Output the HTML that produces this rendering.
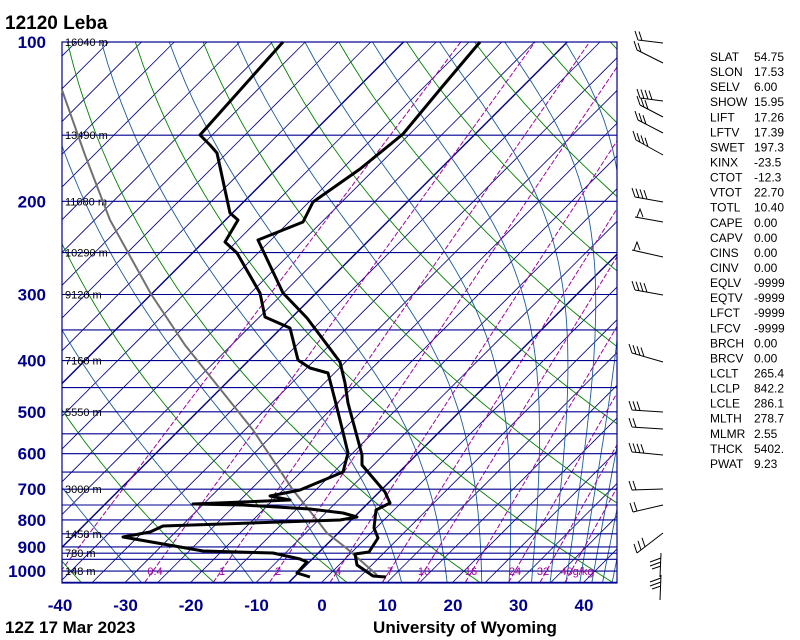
<!DOCTYPE html>
<html><head><meta charset="utf-8"><style>
html,body{margin:0;padding:0;background:#fff;width:800px;height:640px;overflow:hidden}
svg{display:block}
</style></head><body>
<svg id="s" xmlns="http://www.w3.org/2000/svg" width="800" height="640" viewBox="0 0 800 640" font-family="Liberation Sans, sans-serif"></svg>
<script>
(function(){
function yp(p){return 42+229.8*Math.log(p/100);}
function xt(T,p){return 321+6.55*T+(583-yp(p));}
var o=[];
o.push('<defs><clipPath id="c"><rect x="62" y="42" width="555" height="541"/></clipPath></defs>');
o.push('<g clip-path="url(#c)" fill="none">');
for(var T=-170;T<=60;T+=5){
  var xa=321+6.55*T, w=(T==-70||T==-45||T==-5)?1.4:0.8;
  o.push('<line x1="'+xa+'" y1="583" x2="'+(xa+541)+'" y2="42" stroke="#000080" stroke-width="'+w+'"/>');
}
for(var th=233.15;th<=533.15;th+=20){
  var pts=[];
  for(var p=1050;p>=100;p-=10){var Tk=th*Math.pow(p/1000,0.2857);pts.push(xt(Tk-273.15,p).toFixed(1)+','+yp(p).toFixed(1));}
  o.push('<polyline points="'+pts.join(' ')+'" stroke="#008000" stroke-width="0.9"/>');
}
function es(Tc){return 6.112*Math.exp(17.67*Tc/(Tc+243.5));}
function the(Tc,p){var e=es(Tc),rs=0.622*e/Math.max(p-e,1),Tk=Tc+273.15;return Tk*Math.pow(1000/p,0.2857)*Math.exp(2.5e6*rs/(1004*Tk));}
for(var te=243.15;te<=503.15;te+=20){
  var pts=[];
  for(var p=1050;p>=100;p-=10){
    var lo=-150,hi=45;
    if(the(hi,p)<te)break;
    for(var i=0;i<50;i++){var m=(lo+hi)/2;if(the(m,p)<te)lo=m;else hi=m;}
    pts.push(xt(lo,p).toFixed(1)+','+yp(p).toFixed(1));
  }
  if(pts.length>1)o.push('<polyline points="'+pts.join(' ')+'" stroke="#1c5a9a" stroke-width="0.9"/>');
}
var mr=[0.1,0.4,1,2,4,7,10,16,24,32,40];
for(var k=0;k<mr.length;k++){
  var r=mr[k]/1000,pts=[];
  [1050,100].forEach(function(p){
    var e=r*p/(0.622+r),L=Math.log(e/6.112),Tc=L*243.5/(17.67-L);
    pts.push(xt(Tc,p).toFixed(1)+','+yp(p).toFixed(1));
  });
  o.push('<polyline points="'+pts.join(' ')+'" stroke="#a000a0" stroke-width="1" stroke-dasharray="5,2"/>');
}
o.push('</g>');
[100,150,200,250,300,350,400,450,500,550,600,650,700,750,800,850,900,925,950,1000,1050].forEach(function(p){
  var y=yp(p).toFixed(1);
  o.push('<line x1="62" y1="'+y+'" x2="617" y2="'+y+'" stroke="#000090" stroke-width="1.1"/>');
});
o.push('<rect x="62" y="42" width="555" height="541" fill="none" stroke="#000090" stroke-width="1.2"/>');
[[100,'16040 m'],[150,'13490 m'],[200,'11680 m'],[250,'10290 m'],[300,'9120 m'],[400,'7160 m'],[500,'5550 m'],[700,'3000 m'],[850,'1458 m'],[925,'780 m'],[1000,'148 m']].forEach(function(a){
  o.push('<text x="65" y="'+(yp(a[0])+4).toFixed(1)+'" font-size="11" fill="#000">'+a[1]+'</text>');
});
[[155,'0.4'],[222,'1'],[278,'2'],[338,'4'],[390,'7'],[424,'10'],[471,'16'],[515,'24'],[543,'32'],[577,'40g/kg']].forEach(function(a){
  o.push('<text x="'+a[0]+'" y="575" font-size="11" fill="#a000a0" text-anchor="middle">'+a[1]+'</text>');
});
o.push('<polyline fill="none" stroke="#707070" stroke-width="2" points="62,90 85,155 110,220 151,294 185,345 213,380 253,430 293,490 317,520 327,533 345,547 360,560 377,575"/>');
o.push('<polyline fill="none" stroke="#000" stroke-width="3" stroke-linejoin="round" points="480,42 442,87 403,134 360,169 313,202 303,222 258,240 283,293 307,318 340,362 345,383 348,403 362,455 362,465 385,492 390,503 376,510 374,528 378,538 369,552 355,554 357,565 373,576 386,577"/>');
o.push('<polyline fill="none" stroke="#000" stroke-width="3" stroke-linejoin="round" points="283,42 200,135 210,145 217,153 230,213 238,220 225,242 237,253 260,293 265,317 290,328 298,360 310,368 328,373 335,400 342,428 348,453 343,472 300,490 270,496 290,500 193,504 243,505 310,509 343,513 357,517 340,520 163,526 150,532 123,537 203,551 273,553 300,559 307,562 297,573 310,577"/>');
[[100,'100'],[200,'200'],[300,'300'],[400,'400'],[500,'500'],[600,'600'],[700,'700'],[800,'800'],[900,'900'],[1000,'1000']].forEach(function(a){
  o.push('<text x="46" y="'+(yp(a[0])+6).toFixed(1)+'" font-size="17" font-weight="bold" fill="#00008b" text-anchor="end">'+a[1]+'</text>');
});
for(var t=-40;t<=40;t+=10){
  o.push('<text x="'+(322+6.55*t).toFixed(1)+'" y="611" font-size="17" font-weight="bold" fill="#00008b" text-anchor="middle">'+t+'</text>');
}
o.push('<text x="5" y="29" font-size="19" font-weight="bold" fill="#000">12120  Leba</text>');
o.push('<text x="5" y="633" font-size="17" font-weight="bold" fill="#000">12Z 17 Mar 2023</text>');
o.push('<text x="465" y="633" font-size="17" font-weight="bold" fill="#000" text-anchor="middle">University of Wyoming</text>');
var st=[['SLAT','54.75'],['SLON','17.53'],['SELV','6.00'],['SHOW','15.95'],['LIFT','17.26'],['LFTV','17.39'],['SWET','197.3'],['KINX','-23.5'],['CTOT','-12.3'],['VTOT','22.70'],['TOTL','10.40'],['CAPE','0.00'],['CAPV','0.00'],['CINS','0.00'],['CINV','0.00'],['EQLV','-9999'],['EQTV','-9999'],['LFCT','-9999'],['LFCV','-9999'],['BRCH','0.00'],['BRCV','0.00'],['LCLT','265.4'],['LCLP','842.2'],['LCLE','286.1'],['MLTH','278.7'],['MLMR','2.55'],['THCK','5402.'],['PWAT','9.23']];
st.forEach(function(a,i){var y=57+i*15.07+4;
  o.push('<text x="710" y="'+y.toFixed(1)+'" font-size="12" fill="#000">'+a[0]+'</text><text x="754" y="'+y.toFixed(1)+'" font-size="12" fill="#000">'+a[1]+'</text>');});
var barbs=[[638,40,663,43,2],[637,50,663,63,2],[640,98,663,101,4],[640,105,663,117,3],[638,120,663,133,3],[636,140,663,155,4],[635,197,663,202,4],[635,217,663,222,9],[632,250,663,257,9],[635,290,663,295,4],[632,353,663,362,4],[632,410,663,412,3],[632,427,663,429,2],[632,452,663,455,4],[632,490,663,489,2],[633,512,663,505,2],[637,553,663,533,3]];
barbs.forEach(function(b){
  var s='M'+b[0]+','+b[1]+'L'+b[2]+','+b[3];
  var n=b[4];
  if(n==9){s+='M'+(b[0]+2)+','+b[1]+'l3,-8l3,8';}
  else for(var i=0;i<n;i++){var xx=b[0]+i*4,yy=b[1]+(b[3]-b[1])*(i*4)/(b[2]-b[0]);s+='M'+xx+','+yy.toFixed(1)+'l-3,-9';}
  o.push('<path d="'+s+'" fill="none" stroke="#000" stroke-width="1"/>');
});
o.push('<path d="M661,553L660,577M661,558l-11,4M661,562l-11,4M661,566l-9,3M661,575L660,600M661,578l-11,4M661,582l-11,4M661,586l-9,3" fill="none" stroke="#000" stroke-width="1"/>');
document.getElementById('s').innerHTML=o.join('');
})();
</script>
</body></html>
